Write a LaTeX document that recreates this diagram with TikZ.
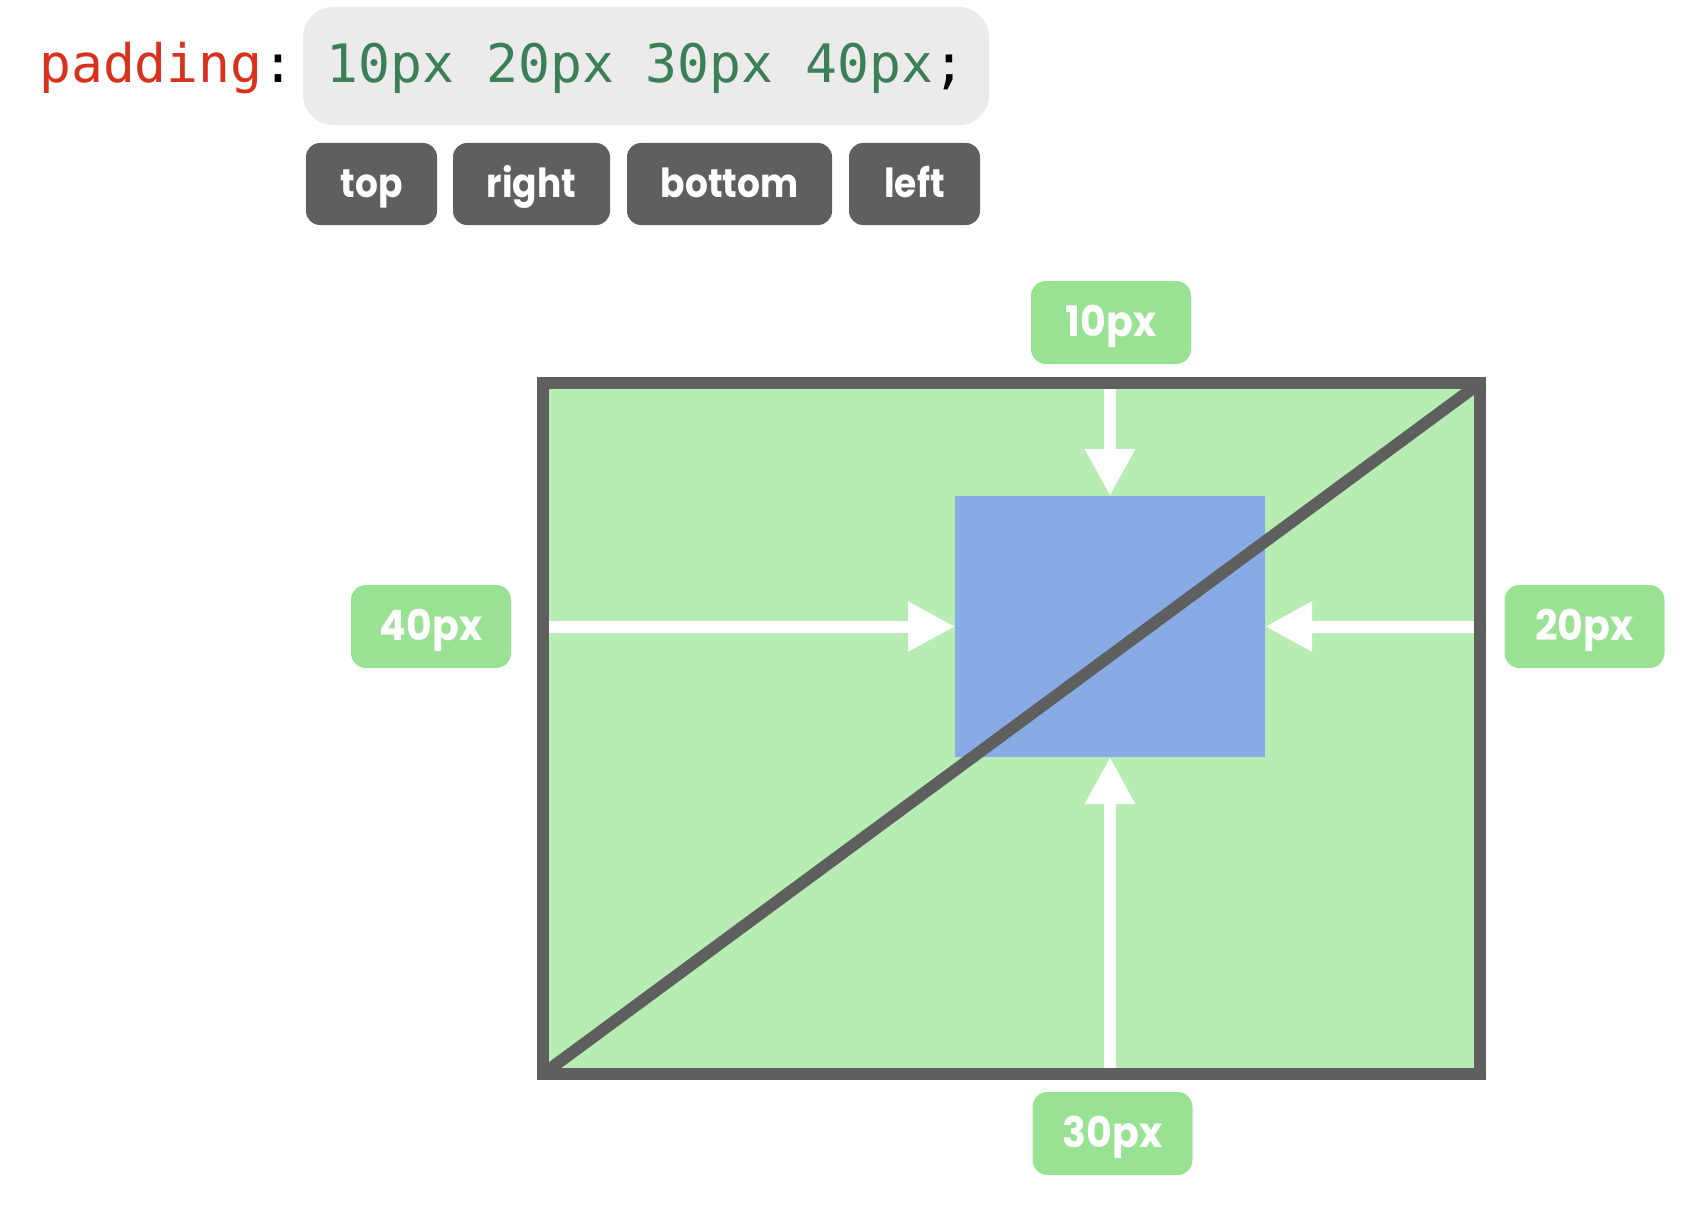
\documentclass[tikz,border=0pt]{standalone}
\usepackage{fontspec}
\usetikzlibrary{arrows.meta}
\newfontfamily\codefont{DejaVu Sans Mono}
\newfontfamily\btnfont[FakeStretch=0.9]{Poppins}
\newfontfamily\lblfont[FakeStretch=0.94]{Poppins}
\definecolor{kwred}{HTML}{D8321E}
\definecolor{valgreen}{HTML}{3A7F56}
\definecolor{codebg}{HTML}{EBEBEB}
\definecolor{btngray}{HTML}{5F5F5F}
\definecolor{lblgreen}{HTML}{99E293}
\definecolor{padgreen}{HTML}{B7EDB3}
\definecolor{contentblue}{HTML}{88ABE5}
\begin{document}
\begin{tikzpicture}[x=1pt,y=-1pt,
  btn/.style={fill=btngray, rounded corners=14pt, minimum height=82pt, inner sep=0pt,
    text=white, font=\btnfont\bfseries\fontsize{40}{40}\selectfont, text height=26pt, text depth=0pt},
  lbl/.style={fill=lblgreen, rounded corners=15pt, minimum width=160pt, minimum height=83pt, inner sep=0pt,
    text=white, font=\lblfont\bfseries\fontsize{42}{42}\selectfont, text height=28pt, text depth=0pt},
  arr/.style={draw=white, line width=12pt, -{Triangle[length=47pt,width=47pt]}},
  border/.style={draw=btngray, line width=12pt}
]
\useasboundingbox (0,0) rectangle (1702,1220);

% code line
\node[anchor=base west, inner sep=0pt, text=kwred, font=\codefont\fontsize{53}{53}\selectfont]
  (kw) at (39,83) {padding\textcolor{black}{:}};
\node[fill=codebg, rounded corners=30pt, minimum width=686pt, minimum height=118pt, inner sep=0pt,
  text=valgreen, font=\codefont\fontsize{53}{53}\selectfont, text height=34pt, text depth=0pt]
  (code) at (646,66) {10px 20px 30px 40px\textcolor{black}{;}};

% buttons
\node[btn, minimum width=131pt] (btop) at (371.5,184) {top};
\node[btn, minimum width=157pt] (bright) at (531.5,184) {right};
\node[btn, minimum width=205pt] (bbottom) at (729.5,184) {bottom};
\node[btn, minimum width=131pt] (bleft) at (914.5,184) {left};

% box
\node[fill=padgreen, minimum width=937pt, minimum height=691pt, inner sep=0pt, outer sep=0pt]
  (box) at (1011.5,728.5) {};
\node[fill=contentblue, minimum width=310pt, minimum height=261pt, inner sep=0pt, outer sep=0pt]
  (content) at (1110,626.5) {};

% arrows
\draw[arr] (content.north |- box.north) -- (content.north);
\draw[arr] (content.south |- box.south) -- (content.south);
\draw[arr] (content.west -| box.west) -- (content.west);
\draw[arr] (content.east -| box.east) -- (content.east);

% diagonal
\begin{scope}
  \clip (box.south west) ++(-6,6) rectangle ([shift={(6,-6)}]box.north east);
  \draw[border] (box.south west) -- (box.north east);
\end{scope}
\draw[border] (box.south west) rectangle (box.north east);

% labels
\node[lbl] (ltop) at (1111,322.5) {10px};
\node[lbl] (lleft) at (431,626.5) {40px};
\node[lbl] (lright) at (1584.5,626.5) {20px};
\node[lbl] (lbottom) at (1112.5,1133.5) {30px};
\end{tikzpicture}
\end{document}
